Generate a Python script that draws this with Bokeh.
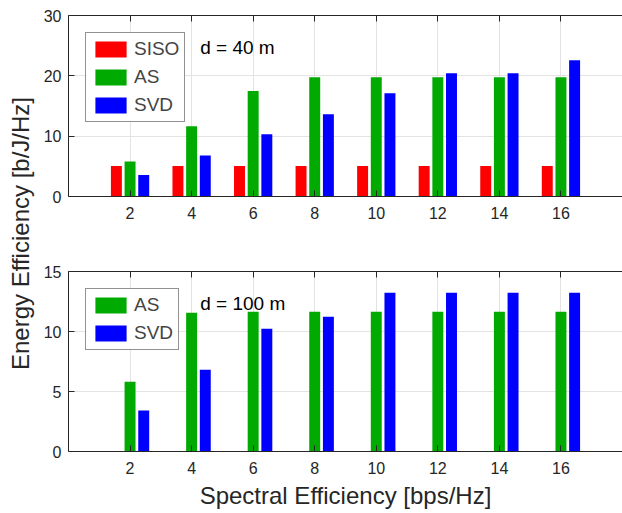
import numpy as np
from bokeh.plotting import figure
from bokeh.models import (ColumnDataSource, Range1d, FixedTicker, LinearAxis,
                          Label, Legend, LegendItem)
from bokeh.layouts import row, column
from bokeh.transform import dodge
from bokeh.embed import file_html
from bokeh.resources import INLINE

# ---- data ----
se = [2, 4, 6, 8, 10, 12, 14, 16]
siso_40 = [5.04, 5.04, 5.04, 5.04, 5.04, 5.04, 5.04, 5.04]
as_40 = [5.82, 11.63, 17.5, 19.78, 19.78, 19.78, 19.78, 19.78]
svd_40 = [3.55, 6.81, 10.3, 13.63, 17.12, 20.44, 20.44, 22.6]
as_100 = [5.82, 11.56, 11.64, 11.64, 11.64, 11.64, 11.64, 11.64]
svd_100 = [3.41, 6.82, 10.23, 11.23, 13.22, 13.22, 13.22, 13.22]
yticks_40 = [0, 10, 20, 30]
yticks_100 = [0, 5, 10, 15]

FONT = "Liberation Sans"
AXC = "#262626"
RED, GREEN, BLUE = "#ff0000", "#00aa00", "#0000ff"
OFF = 0.444
BW = 0.356


def style_axis(ax, ticks):
    ax.ticker = FixedTicker(ticks=ticks)
    ax.minor_tick_line_color = None
    ax.major_tick_in = 6
    ax.major_tick_out = 0
    ax.axis_line_color = AXC
    ax.major_tick_line_color = AXC
    ax.major_label_text_color = AXC
    ax.major_label_text_font = FONT
    ax.major_label_text_font_size = "16px"
    ax.axis_label_text_font = FONT
    ax.axis_label_text_font_style = "normal"
    ax.axis_label_text_color = AXC
    ax.axis_label_text_font_size = "24px"


def make_panel(height, ymax, yticks, btop, bbot, series, dtext, dy, xlabel=None):
    p = figure(width=582, height=height, x_range=Range1d(0, 18),
               y_range=Range1d(0, ymax), output_backend="svg",
               toolbar_location=None, min_border_left=28, min_border_right=0,
               min_border_top=btop, min_border_bottom=bbot,
               outline_line_color=None)
    style_axis(p.xaxis[0], se)
    p.xaxis[0].major_label_standoff = 10
    style_axis(p.yaxis[0], yticks)
    p.yaxis[0].major_label_standoff = 7
    if xlabel:
        p.xaxis[0].axis_label = xlabel
        p.xaxis[0].axis_label_standoff = 5
    top = LinearAxis()
    style_axis(top, se)
    top.major_label_overrides = {t: "" for t in se}
    top.major_label_standoff = 0
    p.add_layout(top, "above")

    p.xgrid.ticker = FixedTicker(ticks=se)
    p.ygrid.ticker = FixedTicker(ticks=yticks)
    p.grid.grid_line_color = "#e3e3e3"

    src = ColumnDataSource(dict(se=se, **{k: v for k, v, _, _, _ in series}))
    items = []
    for key, vals, name, color, off in series:
        r = p.vbar(x=dodge("se", off), top=key, width=BW, source=src,
                   fill_color=color, line_color=None)
        items.append(LegendItem(label=name, renderers=[r]))
    leg = Legend(items=items, location="top_left", margin=17, padding=5,
                 spacing=6, glyph_width=39, glyph_height=20, label_standoff=4,
                 label_text_font=FONT, label_text_font_size="19px",
                 label_height=20, border_line_color=AXC, border_line_width=1,
                 background_fill_alpha=1.0)
    p.add_layout(leg)
    p.add_layout(Label(x=4.28, y=dy, text=dtext, text_font=FONT,
                       text_font_size="19px", text_baseline="alphabetic",
                       text_color="black"))
    return p


top = make_panel(235, 30, yticks_40, 15, 39,
                 [("siso", siso_40, "SISO", RED, -OFF),
                  ("as", as_40, "AS", GREEN, 0.0),
                  ("svd", svd_40, "SVD", BLUE, OFF)],
                 "d = 40 m", 24.75)
bot = make_panel(278, 15, yticks_100, 36, 62,
                 [("as", as_100, "AS", GREEN, 0.0),
                  ("svd", svd_100, "SVD", BLUE, OFF)],
                 "d = 100 m", 12.3, xlabel="Spectral Efficiency [bps/Hz]")

yl = figure(width=40, height=513, x_range=Range1d(0, 1), y_range=Range1d(0, 1),
            output_backend="svg", toolbar_location=None, min_border=0,
            outline_line_color=None, x_axis_type=None, y_axis_type=None)
yl.grid.visible = False
yl.add_layout(Label(x=20 / 40, y=(513 - 233) / 513, text="Energy Efficiency [b/J/Hz]",
                    angle=np.pi / 2, text_align="center", text_baseline="middle",
                    text_font=FONT, text_font_size="24px", text_color=AXC))

layout = row(yl, column(top, bot))
open("out.html", "w").write(file_html(layout, INLINE))
